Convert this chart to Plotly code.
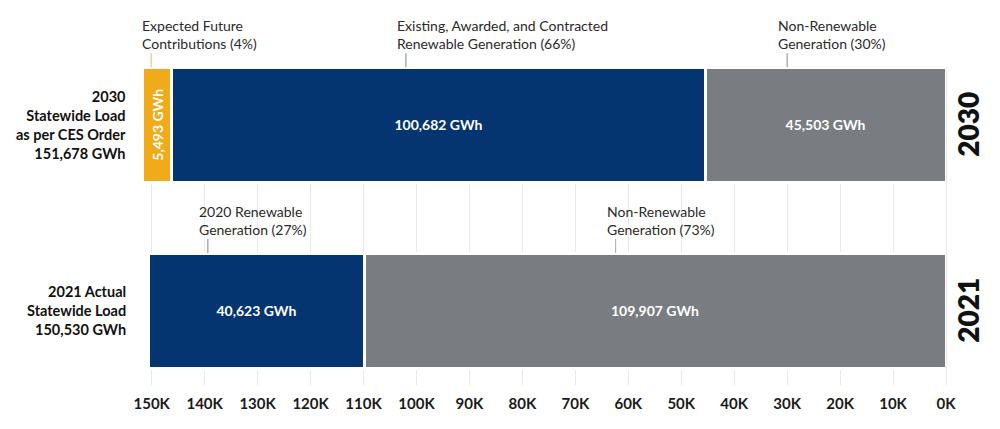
import plotly.graph_objects as go

# data
years = ["2021", "2030"]
non_renewable = [109907, 45503]
renewable = [40623, 100682]
future = [None, 5493]

tick_vals = [150000, 140000, 130000, 120000, 110000, 100000, 90000, 80000,
             70000, 60000, 50000, 40000, 30000, 20000, 10000, 0]
tick_text = ["150K", "140K", "130K", "120K", "110K", "100K", "90K", "80K",
             "70K", "60K", "50K", "40K", "30K", "20K", "10K", "0K"]

row_labels = ["2021 Actual<br>Statewide Load<br>150,530 GWh",
              "2030<br>Statewide Load<br>as per CES Order<br>151,678 GWh"]

# callouts: (row index, x position of leader, text, leader colour)
callouts = [
    (1, 150100, "Expected Future<br>Contributions (4%)", "#f3c76a"),
    (1, 102000, "Existing, Awarded, and Contracted<br>Renewable Generation (66%)", "#8d9ab5"),
    (1, 30000, "Non-Renewable<br>Generation (30%)", "#9a9ca0"),
    (0, 139400, "2020 Renewable<br>Generation (27%)", "#8d9ab5"),
    (0, 62400, "Non-Renewable<br>Generation (73%)", "#b5b7ba"),
]

FONT = "Lato"
YELLOW = "#efab1a"
NAVY = "#053570"
GRAY = "#797c81"
BAR_W = 0.62
Y_RANGE = [-0.4, 1.3]


def fmt(v):
    return None if v is None else f"{v:,} GWh"


def to_paper(y):
    return (y - Y_RANGE[0]) / (Y_RANGE[1] - Y_RANGE[0])


fig = go.Figure()

for vals, color, angle in [(non_renewable, GRAY, 0), (renewable, NAVY, 0), (future, YELLOW, -90)]:
    fig.add_trace(go.Bar(
        y=years, x=vals, orientation='h',
        marker=dict(color=color, line=dict(color='white', width=3)),
        width=BAR_W,
        text=[fmt(v) for v in vals],
        textposition='inside', insidetextanchor='middle',
        textangle=angle,
        insidetextfont=dict(family=FONT, size=14, color='white', weight=700),
        hoverinfo='skip', showlegend=False
    ))

# leader lines and callout text above each bar
for row, xpos, text, lcolor in callouts:
    top = to_paper(row + BAR_W / 2)
    fig.add_shape(type='line', xref='x', yref='paper', x0=xpos, x1=xpos,
                  ysizemode='pixel', yanchor=top, y0=0, y1=14,
                  line=dict(color=lcolor, width=1.2))
    fig.add_annotation(x=xpos, y=top, xref='x', yref='paper', text=text,
                       showarrow=False, xanchor='left', yanchor='bottom',
                       align='left', xshift=-11, yshift=13,
                       font=dict(family=FONT, size=14, color='#2a2a2a'))

# row labels on the left and year labels on the right
for i, year in enumerate(years):
    yp = to_paper(i)
    fig.add_annotation(x=0, y=yp, xref='paper', yref='paper', text=row_labels[i],
                       showarrow=False, xanchor='right', yanchor='middle',
                       align='right', xshift=-11,
                       font=dict(family=FONT, size=14.5, color='#111111', weight=700))
    fig.add_annotation(x=1, y=yp, xref='paper', yref='paper', text=year,
                       showarrow=False, xanchor='center', yanchor='middle',
                       textangle=-90, xshift=22,
                       font=dict(family=FONT, size=28, color='#111111', weight=800))

fig.update_layout(
    barmode='stack',
    width=1000, height=429,
    margin=dict(l=139, r=54, t=69, b=44),
    plot_bgcolor='white', paper_bgcolor='white',
    xaxis=dict(range=[152400, 0], tickvals=tick_vals, ticktext=tick_text,
               showgrid=True, gridcolor='#e9e9ec', gridwidth=1,
               zeroline=True, zerolinecolor='#e9e9ec', zerolinewidth=1,
               ticks='', ticklabelstandoff=8,
               tickfont=dict(family=FONT, size=15, color='#1a1a1a', weight=700)),
    yaxis=dict(type='category', range=Y_RANGE, showticklabels=False, showgrid=False,
               zeroline=False, categoryorder='array', categoryarray=years),
)

fig.write_html("out.html", config={'displayModeBar': False},
               post_script="document.body.style.margin='0';")
